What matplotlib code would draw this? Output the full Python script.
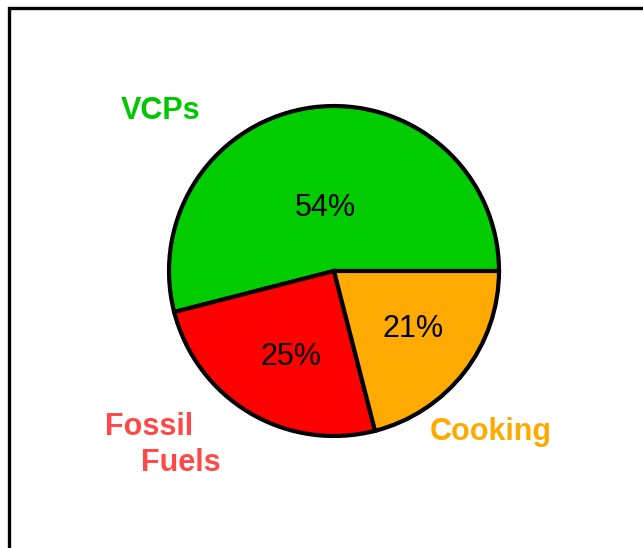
import matplotlib.pyplot as plt
from matplotlib.patches import Rectangle

labels = ["VCPs", "Fossil Fuels", "Cooking"]
shares = [54, 25, 21]
colors = ["#00cc00", "#ff0000", "#ffaa00"]
label_colors = ["#00c800", "#ff4848", "#ffaa00"]

plt.rcParams['font.family'] = ['Liberation Sans', 'DejaVu Sans']

fig = plt.figure(figsize=(6.43, 5.48), dpi=100)
ax = fig.add_axes([0, 0, 1, 1])

# frame running off the right and bottom edges
fig.patches.append(Rectangle((9 / 643, -0.1), 1.2, (548 - 8) / 548 + 0.1,
                             transform=fig.transFigure, fill=False,
                             edgecolor='black', linewidth=2.4, clip_on=False))

wedges, texts, pcts = ax.pie(shares, colors=colors, startangle=0, counterclock=True,
                             center=(334, 277), radius=165, autopct='%d%%',
                             wedgeprops=dict(edgecolor='black', linewidth=3),
                             textprops=dict(fontsize=22, color='black'), frame=True)
ax.set_xlim(0, 643)
ax.set_ylim(0, 548)
ax.set_aspect('equal')
ax.axis('off')

pct_pos = [(325, 340), (291, 191), (413, 219)]
for t, p in zip(pcts, pct_pos):
    t.set_position(p)
    t.set_ha('center')
    t.set_va('center')

lab_kw = dict(fontsize=22, fontweight='bold', ha='center', va='center')
ax.text(161, 437, labels[0], color=label_colors[0], **lab_kw)
ax.text(149, 121, "Fossil", color=label_colors[1], **lab_kw)
ax.text(181, 85, "Fuels", color=label_colors[1], **lab_kw)
ax.text(491, 116, labels[2], color=label_colors[2], **lab_kw)

fig.savefig("out.png", dpi=100)
